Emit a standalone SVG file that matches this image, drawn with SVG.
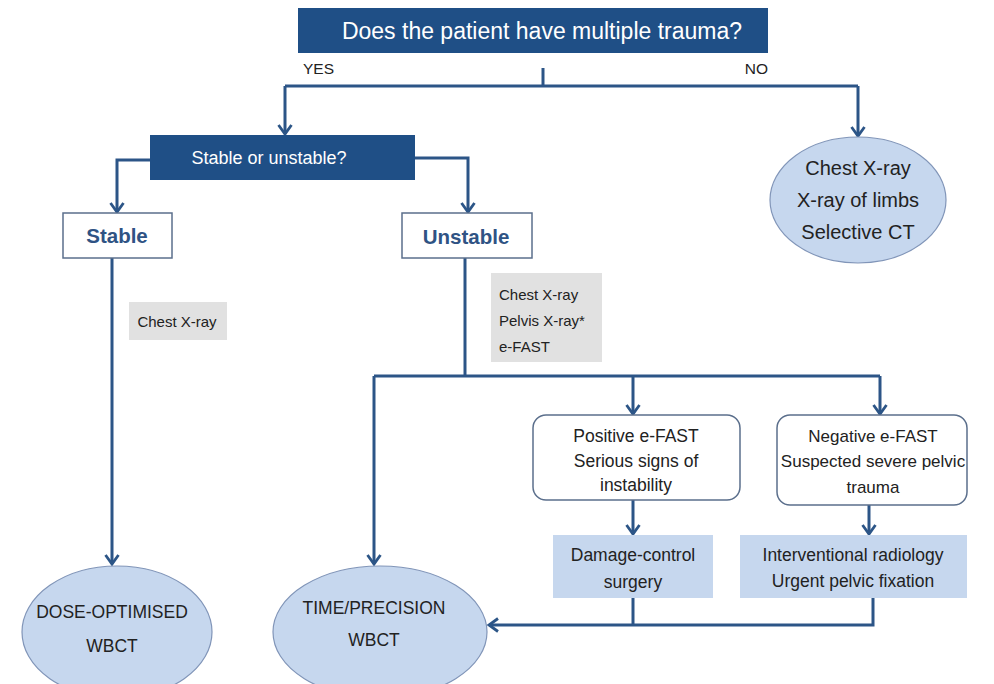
<svg xmlns="http://www.w3.org/2000/svg" width="994" height="684" viewBox="0 0 994 684">
<style>
text{font-family:"Liberation Sans",Arial,sans-serif;}
.dark{fill:#1f4f86;}
.wt{fill:#ffffff;}
.bx{fill:#ffffff;stroke:#5b6f8c;stroke-width:1.5;}
.lb{fill:#c6d7ee;stroke:none;}
.el{fill:#c6d7ee;stroke:#8195b8;stroke-width:1.2;}
.gr{fill:#e1e1e1;}
.t{fill:#222;}
.bold{fill:#2f5384;font-weight:bold;}
.ln{fill:none;stroke:#2c5587;stroke-width:3;}
</style>
<defs>
<marker id="ah" markerWidth="16" markerHeight="16" refX="13" refY="8" orient="auto" markerUnits="userSpaceOnUse" viewBox="0 0 16 16">
<path d="M4,1.5 L13,8 L4,14.5" fill="none" stroke="#2c5587" stroke-width="2.8"/>
</marker>
</defs>

<g id="connectors">
<path class="ln" d="M543,68 V86"/>
<path class="ln" d="M285,86 H858"/>
<path class="ln" d="M285,86 V134" marker-end="url(#ah)"/>
<path class="ln" d="M858,86 V136" marker-end="url(#ah)"/>
<path class="ln" d="M150,160 H117 V212" marker-end="url(#ah)"/>
<path class="ln" d="M415,158 H468 V212" marker-end="url(#ah)"/>
<path class="ln" d="M112,258 V564" marker-end="url(#ah)"/>
<path class="ln" d="M465,258 V376"/>
<path class="ln" d="M374,376 H880"/>
<path class="ln" d="M374,376 V564" marker-end="url(#ah)"/>
<path class="ln" d="M633,376 V414" marker-end="url(#ah)"/>
<path class="ln" d="M880,376 V414" marker-end="url(#ah)"/>
<path class="ln" d="M633,500 V534" marker-end="url(#ah)"/>
<path class="ln" d="M869,505 V534" marker-end="url(#ah)"/>
<path class="ln" d="M633,598 V625"/>
<path class="ln" d="M873,598 V625 H489" marker-end="url(#ah)"/>
</g>

<g id="q1">
<rect class="dark" x="298" y="8" width="470" height="45"/>
<text class="wt" x="542" y="39" font-size="23" text-anchor="middle">Does the patient have multiple trauma?</text>
</g>
<g id="yes"><text class="t" x="303" y="74" font-size="15.5">YES</text></g>
<g id="no"><text class="t" x="768" y="74" font-size="15.5" text-anchor="end">NO</text></g>

<g id="q2">
<rect class="dark" x="150" y="135" width="265" height="45"/>
<text class="wt" x="269" y="164" font-size="18" text-anchor="middle">Stable or unstable?</text>
</g>

<g id="nomt">
<ellipse class="el" cx="858" cy="200" rx="88" ry="63"/>
<text class="t" x="858" y="175" font-size="20" text-anchor="middle">Chest X-ray</text>
<text class="t" x="858" y="207" font-size="20" text-anchor="middle">X-ray of limbs</text>
<text class="t" x="858" y="239" font-size="20" text-anchor="middle">Selective CT</text>
</g>

<g id="stable">
<rect class="bx" x="63" y="213" width="109" height="45"/>
<text class="bold" x="117" y="243" font-size="20.5" text-anchor="middle">Stable</text>
</g>
<g id="unstable">
<rect class="bx" x="402" y="213" width="130" height="45"/>
<text class="bold" x="466" y="244" font-size="20.5" text-anchor="middle">Unstable</text>
</g>

<g id="stable-exam">
<rect class="gr" x="129" y="302" width="98" height="38"/>
<text class="t" x="177" y="327" font-size="15" text-anchor="middle">Chest X-ray</text>
</g>
<g id="unstable-exam">
<rect class="gr" x="491" y="273" width="111" height="89"/>
<text class="t" x="499" y="300" font-size="15">Chest X-ray</text>
<text class="t" x="499" y="326" font-size="15">Pelvis X-ray*</text>
<text class="t" x="499" y="352" font-size="15">e-FAST</text>
</g>

<g id="pos">
<rect class="bx" x="533" y="415" width="207" height="85" rx="13"/>
<text class="t" x="636" y="442" font-size="17.5" text-anchor="middle">Positive e-FAST</text>
<text class="t" x="636" y="467" font-size="17.5" text-anchor="middle">Serious signs of</text>
<text class="t" x="636" y="491" font-size="17.5" text-anchor="middle">instability</text>
</g>
<g id="neg">
<rect class="bx" x="777" y="415" width="190" height="90" rx="13"/>
<text class="t" x="873" y="442" font-size="17" text-anchor="middle">Negative e-FAST</text>
<text class="t" x="873" y="467" font-size="17" text-anchor="middle">Suspected severe pelvic</text>
<text class="t" x="873" y="493" font-size="17" text-anchor="middle">trauma</text>
</g>

<g id="dcs">
<rect class="lb" x="553" y="535" width="160" height="63"/>
<text class="t" x="633" y="561" font-size="17.5" text-anchor="middle">Damage-control</text>
<text class="t" x="633" y="588" font-size="17.5" text-anchor="middle">surgery</text>
</g>
<g id="ir">
<rect class="lb" x="740" y="535" width="227" height="63"/>
<text class="t" x="853" y="561" font-size="17.5" text-anchor="middle">Interventional radiology</text>
<text class="t" x="853" y="587" font-size="17.5" text-anchor="middle">Urgent pelvic fixation</text>
</g>

<g id="dose">
<ellipse class="el" cx="117" cy="632" rx="95" ry="66"/>
<text class="t" x="112" y="618" font-size="17.5" text-anchor="middle">DOSE-OPTIMISED</text>
<text class="t" x="112" y="652" font-size="17.5" text-anchor="middle">WBCT</text>
</g>
<g id="time">
<ellipse class="el" cx="380" cy="632" rx="107" ry="66"/>
<text class="t" x="374" y="614" font-size="17.5" text-anchor="middle">TIME/PRECISION</text>
<text class="t" x="374" y="646" font-size="17.5" text-anchor="middle">WBCT</text>
</g>
</svg>
